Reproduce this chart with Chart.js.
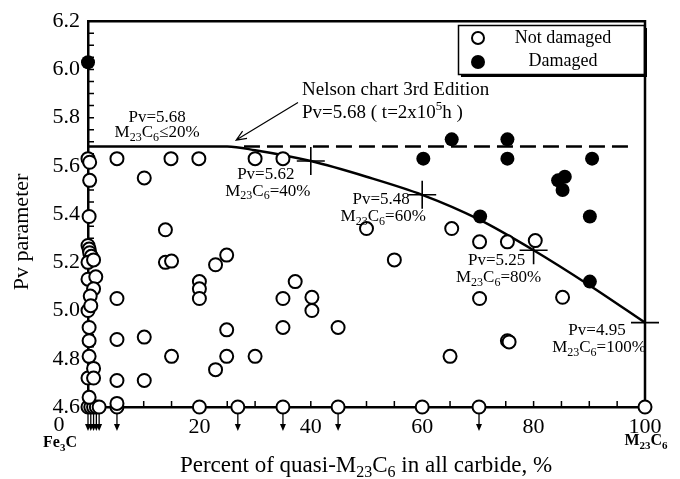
<!DOCTYPE html>
<html>
<head>
<meta charset="utf-8">
<script src="https://cdn.jsdelivr.net/npm/chart.js@4.4.0/dist/chart.umd.min.js"></script>
<style>
  html, body { margin: 0; padding: 0; background: #fff; }
</style>
</head>
<body>
<canvas id="pvChart" width="680" height="479"></canvas>
<script>
// ===== DATA =====
const xTicks = [0, 20, 40, 60, 80, 100];
const yTicks = [4.6, 4.8, 5.0, 5.2, 5.4, 5.6, 5.8, 6.0, 6.2];

// Not damaged (open circles)
const okX = [0, 0.3, 0.3, 0.2, 0, 0.2, 0.3, 0.6, 0, 1, 0, 1.4, 1, 0.4, 0, 0.5, 0.2, 0.2, 0.2, 0, 1, 1, 0.2,
  5.2, 14.9, 19.9, 30, 35, 10.1, 13.9, 13.9, 15, 22.9, 24.9, 20, 20, 20,
  5.2, 24.9, 5.2, 10.1, 15, 24.9, 30, 22.9, 5.2, 10.1, 5.2, 20, 60, 100,
  55, 37.2, 35, 40.2, 40.2, 35, 44.9, 65, 50, 65.3,
  70.3, 75.3, 80.3, 70.3, 85.2, 75.3, 75.6];
const okY = [5.63, 5.615, 5.54, 5.39, 5.27, 5.255, 5.24, 5.225, 5.20, 5.21, 5.13, 5.14, 5.09, 5.06, 5.0, 5.02, 4.93, 4.875, 4.81, 4.72, 4.76, 4.72, 4.64,
  5.63, 5.63, 5.63, 5.63, 5.63, 5.55, 5.335, 5.20, 5.205, 5.19, 5.23, 5.12, 5.09, 5.05,
  5.05, 4.92, 4.88, 4.89, 4.81, 4.81, 4.81, 4.755, 4.71, 4.71, 4.615, 4.6, 4.6, 4.6,
  5.21, 5.12, 5.05, 5.055, 5.0, 4.93, 4.93, 4.81, 5.34, 5.34,
  5.285, 5.285, 5.29, 5.05, 5.055, 4.875, 4.87];

// Not damaged, Pv below the axis (plotted at 4.6 with a down arrow)
const lowX = [0, 0.5, 1, 1.5, 2, 5.2, 26.9, 35, 44.9, 70.2];
const lowY = [4.6, 4.6, 4.6, 4.6, 4.6, 4.6, 4.6, 4.6, 4.6, 4.6];

// Damaged (filled circles)
const dmgX = [0, 60.2, 65.3, 75.3, 75.3, 90.5, 85.6, 84.4, 85.2, 70.4, 90.1, 90.1];
const dmgY = [6.03, 5.63, 5.71, 5.71, 5.63, 5.63, 5.555, 5.54, 5.50, 5.39, 5.39, 5.12];

// Pv limit curve vs quasi-M23C6 percent
const fitX = [0, 25, 30, 40, 50, 60, 70, 80, 90, 100];
const fitY = [5.68, 5.68, 5.665, 5.62, 5.555, 5.48, 5.38, 5.25, 5.105, 4.95];

// Nelson chart 3rd edition level
const nelsonX = [28, 97.5];
const nelsonY = [5.68, 5.68];

// marked points on the curve
const markX = [40, 60, 80, 100];
const markY = [5.62, 5.48, 5.25, 4.95];

const toPts = (xs, ys) => xs.map((x, i) => ({ x: x, y: ys[i] }));

const SERIF = '"Liberation Serif", "Times New Roman", serif';

// draws text with subscript / superscript parts: [text, "sub"|"sup"|undefined]
function rich(ctx, parts, x, y, size, align, weight) {
  const w = weight || "normal";
  const small = Math.round(size * 0.68);
  let total = 0;
  parts.forEach(p => {
    ctx.font = `${w} ${p[1] ? small : size}px ${SERIF}`;
    total += ctx.measureText(p[0]).width;
  });
  let cx = align === "center" ? x - total / 2 : align === "right" ? x - total : x;
  ctx.textAlign = "left";
  ctx.textBaseline = "middle";
  parts.forEach(p => {
    ctx.font = `${w} ${p[1] ? small : size}px ${SERIF}`;
    let dy = 0;
    if (p[1] === "sub") dy = size * 0.3;
    if (p[1] === "sup") dy = -size * 0.35;
    ctx.fillText(p[0], cx, y + dy);
    cx += ctx.measureText(p[0]).width;
  });
}

// ===== DECORATION PLUGIN =====
const decor = {
  id: "decor",
  beforeDatasetsDraw(chart) {
    const { ctx, chartArea: a, scales: { x, y } } = chart;
    ctx.save();
    ctx.strokeStyle = "#000";
    // frame top + right
    ctx.lineWidth = 2.5;
    ctx.beginPath();
    ctx.moveTo(a.left, a.top);
    ctx.lineTo(a.right, a.top);
    ctx.lineTo(a.right, a.bottom);
    ctx.stroke();
    // inner ticks
    ctx.lineWidth = 1.5;
    ctx.beginPath();
    for (let v = y.min; v <= y.max + 1e-6; v += 0.05) {
      const p = y.getPixelForValue(v);
      ctx.moveTo(a.left, p);
      ctx.lineTo(a.left + 6, p);
    }
    for (let v = x.min; v <= x.max + 1e-6; v += 5) {
      const p = x.getPixelForValue(v);
      ctx.moveTo(p, a.bottom);
      ctx.lineTo(p, a.bottom - 6);
    }
    ctx.stroke();
    ctx.restore();
  },
  afterDatasetsDraw(chart) {
    const { ctx, chartArea: a, scales: { x, y } } = chart;
    ctx.save();
    ctx.fillStyle = "#000";
    ctx.strokeStyle = "#000";

    // down arrows under the low points
    ctx.lineWidth = 1.3;
    lowX.forEach((v, i) => {
      const px = x.getPixelForValue(v);
      const top = y.getPixelForValue(lowY[i]) + 7;
      const bot = top + 17;
      ctx.beginPath();
      ctx.moveTo(px, top);
      ctx.lineTo(px, bot - 4);
      ctx.stroke();
      ctx.beginPath();
      ctx.moveTo(px - 3, bot - 7);
      ctx.lineTo(px + 3, bot - 7);
      ctx.lineTo(px, bot);
      ctx.closePath();
      ctx.fill();
    });

    // Nelson arrow
    const hx = x.getPixelForValue(26.6), hy = y.getPixelForValue(5.707);
    const tx = x.getPixelForValue(37.7), ty = y.getPixelForValue(5.863);
    const ang = Math.atan2(hy - ty, hx - tx);
    ctx.lineWidth = 1.2;
    ctx.beginPath();
    ctx.moveTo(tx, ty);
    ctx.lineTo(hx, hy);
    ctx.moveTo(hx - 11 * Math.cos(ang - 0.4), hy - 11 * Math.sin(ang - 0.4));
    ctx.lineTo(hx, hy);
    ctx.lineTo(hx - 11 * Math.cos(ang + 0.4), hy - 11 * Math.sin(ang + 0.4));
    ctx.stroke();
    rich(ctx, [["Nelson chart 3rd Edition"]], tx + 4, ty - 12, 19, "left");
    rich(ctx, [["Pv=5.68 ( t=2x10"], ["5", "sup"], ["h )"]], tx + 4, ty + 11, 19, "left");

    // curve labels
    rich(ctx, [["Pv=5.68"]], x.getPixelForValue(12.4), y.getPixelForValue(5.80), 17, "center");
    rich(ctx, [["M"], ["23", "sub"], ["C"], ["6", "sub"], ["\u226420%"]], x.getPixelForValue(12.4), y.getPixelForValue(5.80) + 15, 17, "center");
    const offs = [[-45, 13], [-41, 5], [-37, 10], [-48, 8]];
    markX.forEach((v, i) => {
      const px = x.getPixelForValue(v) + offs[i][0];
      const py = y.getPixelForValue(markY[i]) + offs[i][1];
      rich(ctx, [["Pv=" + markY[i].toFixed(2)]], px, py, 17, "center");
      rich(ctx, [["M"], ["23", "sub"], ["C"], ["6", "sub"], ["=" + v + "%"]], px + 2, py + 17, 17, "center");
    });

    // axis extras
    rich(ctx, [["0"]], a.left - 29, a.bottom + 18, 22, "center");
    rich(ctx, [["Fe"], ["3", "sub"], ["C"]], a.left - 28, a.bottom + 36, 16, "center", "bold");
    rich(ctx, [["M"], ["23", "sub"], ["C"], ["6", "sub"]], a.right + 1, a.bottom + 34, 16, "center", "bold");

    // axis titles
    rich(ctx, [["Percent of quasi-M"], ["23", "sub"], ["C"], ["6", "sub"], [" in all carbide, %"]], 366, 466, 23, "center");
    ctx.save();
    ctx.translate(22, 232);
    ctx.rotate(-Math.PI / 2);
    rich(ctx, [["Pv parameter"]], 0, 0, 22, "center");
    ctx.restore();

    // legend box
    ctx.lineWidth = 1.5;
    ctx.strokeRect(458.5, 25.5, 186, 49);
    ctx.fillRect(644, 28, 3, 49);
    ctx.fillRect(461, 74, 186, 3);
    ctx.lineWidth = 2;
    ctx.beginPath();
    ctx.arc(478, 38, 6, 0, Math.PI * 2);
    ctx.fillStyle = "#fff";
    ctx.fill();
    ctx.stroke();
    ctx.fillStyle = "#000";
    ctx.beginPath();
    ctx.arc(478, 62, 7, 0, Math.PI * 2);
    ctx.fill();
    rich(ctx, [["Not damaged"]], 563, 38, 18, "center");
    rich(ctx, [["Damaged"]], 563, 61, 18, "center");
    ctx.restore();
  }
};

// ===== CHART =====
new Chart(document.getElementById("pvChart"), {
  type: "scatter",
  data: {
    datasets: [
      {
        label: "Not damaged",
        data: toPts(okX, okY),
        pointRadius: 6.5,
        pointBorderWidth: 2,
        pointBorderColor: "#000",
        pointBackgroundColor: "#fff",
        clip: false,
        order: 1
      },
      {
        label: "Not damaged (below 4.6)",
        data: toPts(lowX, lowY),
        pointRadius: 6.5,
        pointBorderWidth: 2,
        pointBorderColor: "#000",
        pointBackgroundColor: "#fff",
        clip: false,
        order: 1
      },
      {
        label: "Damaged",
        data: toPts(dmgX, dmgY),
        pointRadius: 7,
        pointBorderWidth: 0,
        pointBackgroundColor: "#000",
        clip: false,
        order: 0
      },
      {
        type: "line",
        label: "Curve",
        data: toPts(fitX, fitY),
        borderColor: "#000",
        borderWidth: 2.5,
        pointRadius: 0,
        cubicInterpolationMode: "monotone",
        fill: false,
        clip: false,
        order: 2
      },
      {
        type: "line",
        label: "Nelson",
        data: toPts(nelsonX, nelsonY),
        borderColor: "#000",
        borderWidth: 2.5,
        borderDash: [16, 7],
        pointRadius: 0,
        fill: false,
        clip: false,
        order: 3
      },
      {
        label: "Marks",
        data: toPts(markX, markY),
        pointStyle: "cross",
        pointRadius: 14,
        pointBorderWidth: 1.6,
        pointBorderColor: "#000",
        clip: false,
        order: 2
      }
    ]
  },
  options: {
    responsive: false,
    animation: false,
    devicePixelRatio: 1,
    events: [],
    layout: { padding: { top: 18, right: 35, left: 0, bottom: 0 } },
    plugins: {
      legend: { display: false },
      tooltip: { enabled: false }
    },
    scales: {
      x: {
        type: "linear",
        min: 0,
        max: 100,
        afterFit: s => { s.height = 72; },
        afterBuildTicks: s => { s.ticks = xTicks.map(v => ({ value: v })); },
        grid: { display: false, drawTicks: false },
        border: { display: true, width: 2.5, color: "#000" },
        ticks: {
          padding: 7,
          autoSkip: false,
          maxRotation: 0,
          color: "#000",
          font: { family: SERIF, size: 22 },
          callback: v => (v === 0 ? "" : v)
        }
      },
      y: {
        min: 4.6,
        max: 6.2,
        afterFit: s => { s.width = 88; },
        afterBuildTicks: s => { s.ticks = yTicks.map(v => ({ value: v })); },
        grid: { display: false, drawTicks: false },
        border: { display: true, width: 2.5, color: "#000" },
        ticks: {
          padding: 8,
          autoSkip: false,
          color: "#000",
          font: { family: SERIF, size: 22 },
          callback: v => v.toFixed(1)
        }
      }
    }
  },
  plugins: [decor]
});
</script>
</body>
</html>
